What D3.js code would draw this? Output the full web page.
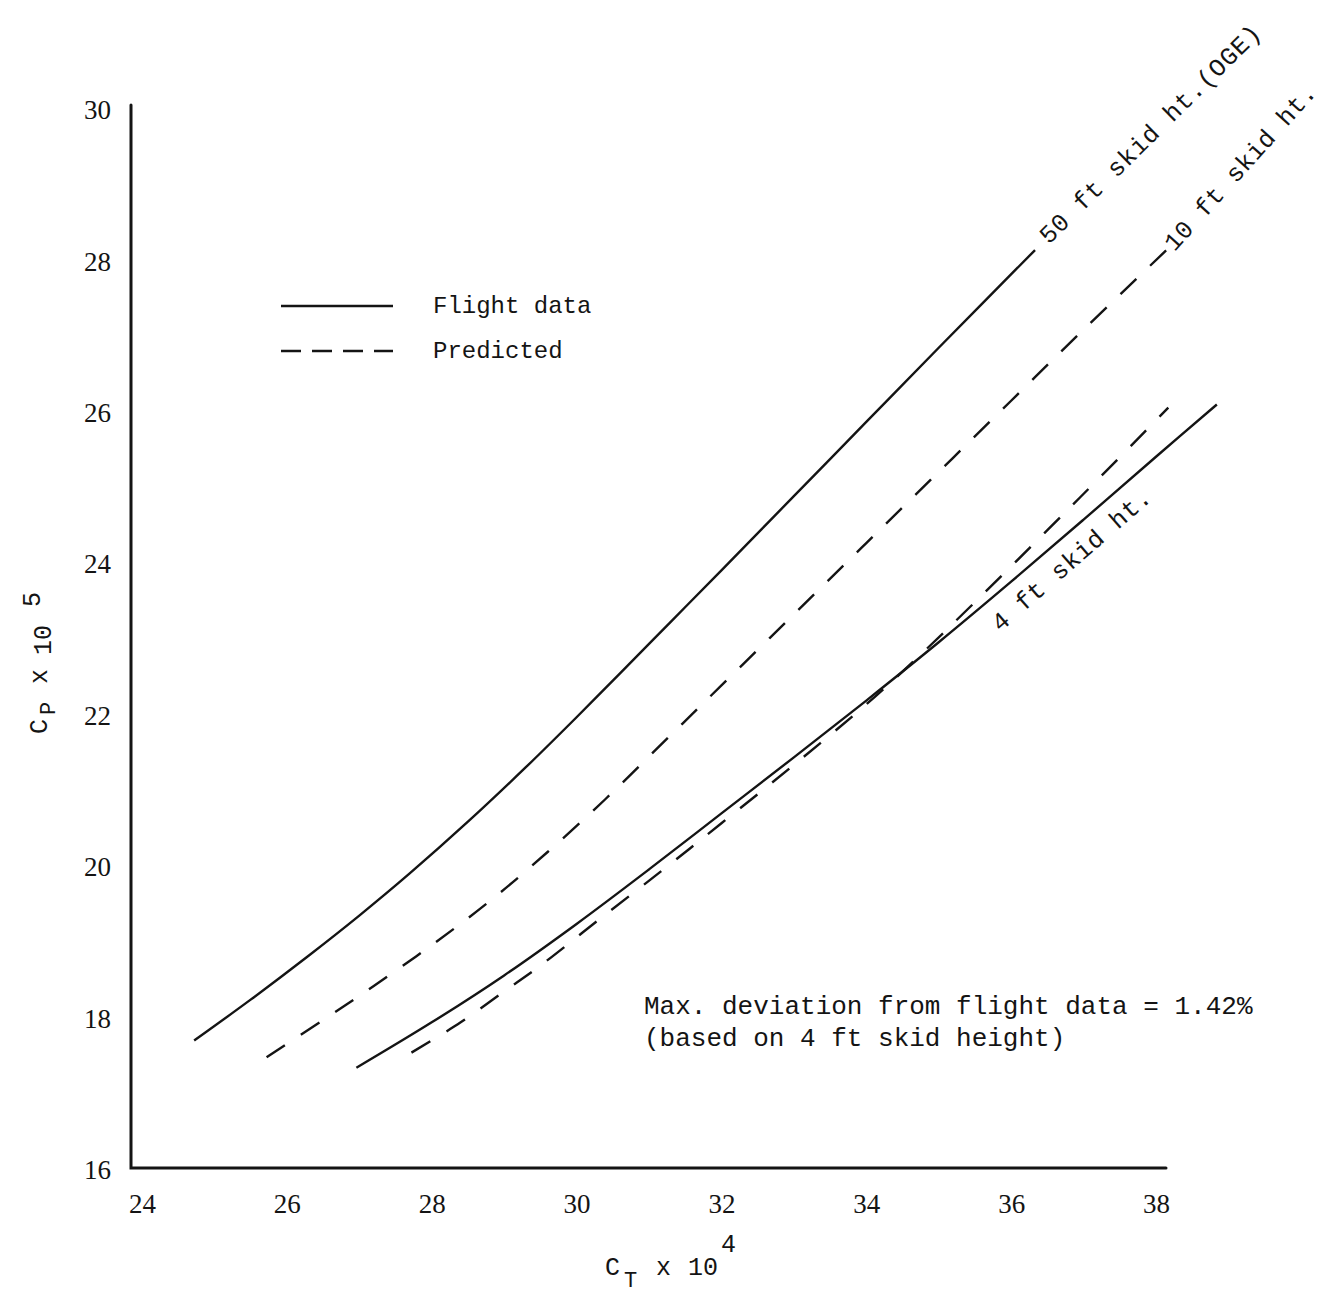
<!DOCTYPE html>
<html>
<head>
<meta charset="utf-8">
<script src="https://cdn.jsdelivr.net/npm/d3@7"></script>
<style>
  body { margin: 0; background: #fff; }
  svg { display: block; }
</style>
</head>
<body>
<svg id="chart" width="1331" height="1295"></svg>
<script>
// Axis ticks
const xTicks = [24, 26, 28, 30, 32, 34, 36, 38];
const yTicks = [16, 18, 20, 22, 24, 26, 28, 30];

// Flight data, 50 ft skid height (OGE)
const flight50CT = [24.72, 25.5, 26.3, 27.0, 27.7, 28.5, 29.3, 30.0, 30.6, 31.3, 32.0, 33.0, 34.0, 35.0, 36.33];
const flight50CP = [17.71, 18.25, 18.83, 19.36, 19.92, 20.6, 21.32, 21.98, 22.56, 23.24, 23.92, 24.9, 25.88, 26.86, 28.15];

// Predicted, 10 ft skid height
const pred10CT = [25.72, 26.5, 27.2, 28.0, 28.8, 29.6, 30.4, 31.2, 32.0, 33.0, 34.0, 35.0, 36.0, 37.0, 38.2];
const pred10CP = [17.49, 17.98, 18.43, 18.97, 19.55, 20.2, 20.9, 21.65, 22.4, 23.34, 24.28, 25.22, 26.16, 27.1, 28.2];

// Flight data, 4 ft skid height
const flight4CT = [26.96, 28.0, 29.0, 30.0, 31.0, 32.0, 33.0, 34.0, 35.0, 36.0, 37.0, 38.0, 38.84];
const flight4CP = [17.35, 17.95, 18.57, 19.25, 19.97, 20.71, 21.45, 22.2, 22.97, 23.77, 24.59, 25.42, 26.11];

// Predicted, 4 ft skid height
const pred4CT = [27.72, 28.4, 29.0, 29.5, 30.3, 31.2, 32.0, 33.0, 34.0, 34.72, 35.5, 36.5, 37.3, 38.17];
const pred4CP = [17.55, 17.95, 18.36, 18.7, 19.3, 19.97, 20.58, 21.35, 22.15, 22.78, 23.5, 24.45, 25.22, 26.07];

const legendLabels = ["Flight data", "Predicted"];
const noteLines = ["Max. deviation from flight data = 1.42%", "(based on 4 ft skid height)"];

const ink = "#141414";
const monoFont = "'Liberation Mono', 'DejaVu Sans Mono', monospace";
const serifFont = "'Liberation Serif', 'DejaVu Serif', serif";

const svg = d3.select("#chart");

const x = d3.scaleLinear().domain([24, 38]).range([142, 1156]);
const y = d3.scaleLinear().domain([16, 30]).range([1170, 110]);

const axisX0 = 131, axisX1 = 1166, axisYTop = 105, axisYBottom = 1168;

// Axis frame (left and bottom)
svg.append("path")
  .attr("d", `M${axisX0},${axisYTop}V${axisYBottom}H${axisX1}`)
  .attr("fill", "none")
  .attr("stroke", ink)
  .attr("stroke-width", 3)
  .attr("stroke-linecap", "round");

// Tick labels
const gx = svg.append("g")
  .attr("transform", `translate(0,${axisYBottom})`)
  .call(d3.axisBottom(x).tickValues(xTicks).tickSize(0).tickPadding(26));
gx.select(".domain").remove();
gx.selectAll("text")
  .attr("font-family", serifFont)
  .attr("font-size", 27)
  .attr("fill", ink);

const gy = svg.append("g")
  .attr("transform", `translate(${axisX0},0)`)
  .call(d3.axisLeft(y).tickValues(yTicks).tickSize(0).tickPadding(20));
gy.select(".domain").remove();
gy.selectAll("text")
  .attr("font-family", serifFont)
  .attr("font-size", 27)
  .attr("fill", ink);

// Axis titles
const xTitle = svg.append("text")
  .attr("font-family", monoFont)
  .attr("font-size", 25)
  .attr("fill", ink)
  .attr("y", 1275);
xTitle.append("tspan").attr("x", 605).text("C");
xTitle.append("tspan").attr("x", 624).attr("dy", 12).attr("font-size", 22).text("T");
xTitle.append("tspan").attr("x", 656).attr("dy", -12).text("x");
xTitle.append("tspan").attr("x", 688).text("10");
xTitle.append("tspan").attr("x", 721).attr("dy", -23).text("4");

const yTitle = svg.append("text")
  .attr("font-family", monoFont)
  .attr("font-size", 25)
  .attr("fill", ink)
  .attr("transform", "translate(47,0) rotate(-90)");
yTitle.append("tspan").attr("x", -734).text("C");
yTitle.append("tspan").attr("x", -715).attr("dy", 8).attr("font-size", 22).text("P");
yTitle.append("tspan").attr("x", -684).attr("dy", -8).text("x");
yTitle.append("tspan").attr("x", -655).attr("dy", 4).text("10");
yTitle.append("tspan").attr("x", -607).attr("dy", -11).text("5");

// Curves
const line = d3.line()
  .x(d => x(d[0]))
  .y(d => y(d[1]))
  .curve(d3.curveCatmullRom.alpha(0.5));

const series = [
  { ct: flight50CT, cp: flight50CP, dashed: false },
  { ct: pred10CT, cp: pred10CP, dashed: true },
  { ct: flight4CT, cp: flight4CP, dashed: false },
  { ct: pred4CT, cp: pred4CP, dashed: true }
];

svg.append("g").selectAll("path")
  .data(series)
  .join("path")
  .attr("d", s => line(d3.zip(s.ct, s.cp)))
  .attr("fill", "none")
  .attr("stroke", ink)
  .attr("stroke-width", 2.4)
  .attr("stroke-dasharray", s => s.dashed ? "22,19" : null);

// Curve labels, placed near the end of each curve
function endPoint(ct, cp) {
  const i = ct.length - 1;
  return [x(ct[i]), y(cp[i])];
}
const curveLabels = [
  { text: "50 ft skid ht.(OGE)", at: endPoint(flight50CT, flight50CP), dx: 14, dy: -5, angle: -44.6, spacing: 0.8 },
  { text: "10 ft skid ht.", at: endPoint(pred10CT, pred10CP), dx: 4, dy: 6, angle: -48, spacing: 0.3 },
  { text: "4 ft skid ht.", at: [x(35.85), y(23.1)], dx: 0, dy: 0, angle: -41, spacing: 0.6 }
];
svg.append("g").selectAll("text")
  .data(curveLabels)
  .join("text")
  .attr("transform", d => `translate(${d.at[0] + d.dx},${d.at[1] + d.dy}) rotate(${d.angle})`)
  .attr("font-family", monoFont)
  .attr("font-size", 25)
  .attr("letter-spacing", d => d.spacing)
  .attr("fill", ink)
  .text(d => d.text);

// Legend
const legend = svg.append("g");
legendLabels.forEach((label, i) => {
  const ly = 306 + i * 45;
  legend.append("line")
    .attr("x1", 281).attr("x2", 393)
    .attr("y1", ly).attr("y2", ly)
    .attr("stroke", ink)
    .attr("stroke-width", 2.4)
    .attr("stroke-dasharray", i === 1 ? "20,11" : null);
  legend.append("text")
    .attr("x", 433)
    .attr("y", ly + 7)
    .attr("font-family", monoFont)
    .attr("font-size", 24)
    .attr("fill", ink)
    .text(label);
});

// Deviation note
svg.append("g").selectAll("text")
  .data(noteLines)
  .join("text")
  .attr("x", 644)
  .attr("y", (d, i) => 1014 + i * 32)
  .attr("font-family", monoFont)
  .attr("font-size", 26)
  .attr("fill", ink)
  .text(d => d);
</script>
</body>
</html>
